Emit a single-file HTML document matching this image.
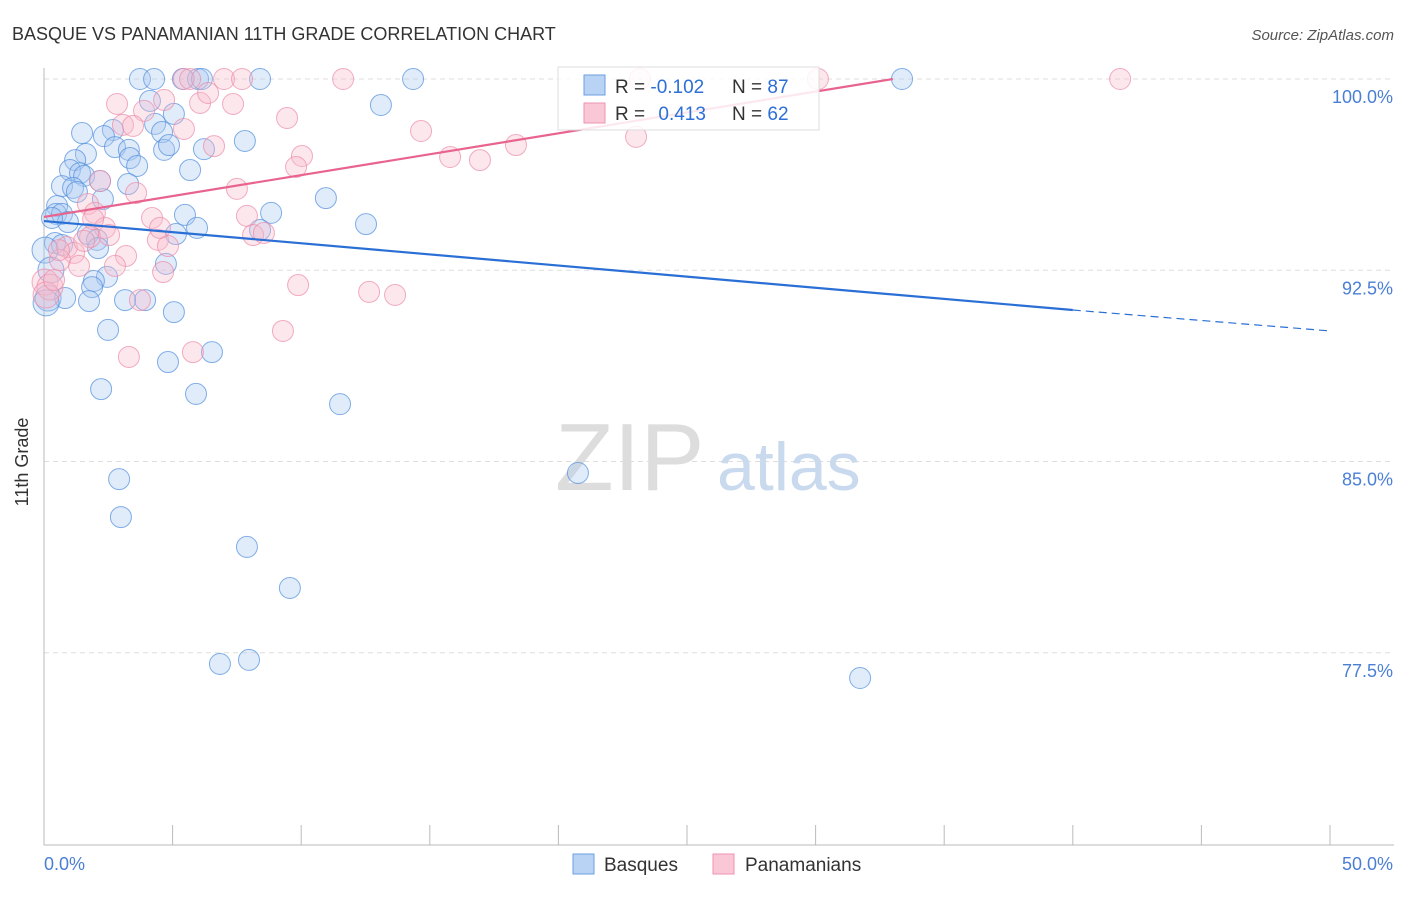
<!DOCTYPE html>
<html><head><meta charset="utf-8"><style>
body{margin:0;background:#fff;font-family:"Liberation Sans",sans-serif;}
svg text{font-family:"Liberation Sans",sans-serif;}
</style></head><body>
<svg id="chart" width="1406" height="892" xmlns="http://www.w3.org/2000/svg">
<text x="12" y="40" font-size="18" fill="#333">BASQUE VS PANAMANIAN 11TH GRADE CORRELATION CHART</text>
<text x="1394" y="40" font-size="15" fill="#555" text-anchor="end" font-style="italic">Source: ZipAtlas.com</text>
<g id="grid"></g>
<g><text x="555" y="490" font-size="96" fill="#ddd" font-family="Liberation Serif">ZIP</text><text x="717" y="490" font-size="68" fill="#c9d9ee">atlas</text></g>
<g id="axes"></g>
<g id="pts"></g>
<g id="trends"></g>
<text x="21" y="455" font-size="18" fill="#333" transform="rotate(-90 28 455)" text-anchor="middle">11th Grade</text>
<g>
<rect x="558" y="67" width="261" height="63" fill="#fff" fill-opacity="0.85" stroke="#ddd"/>
<rect x="584" y="75" width="21" height="20" fill="#b9d3f5" stroke="#6d9ee0"/>
<rect x="584" y="103" width="21" height="20" fill="#f9c7d6" stroke="#ee93b0"/>
<text x="615" y="93" font-size="19" fill="#333">R = <tspan fill="#2c6fd6">-0.102</tspan></text>
<text x="732" y="93" font-size="19" fill="#333">N = <tspan fill="#2c6fd6">87</tspan></text>
<text x="615" y="120" font-size="19" fill="#333">R = <tspan fill="#2c6fd6" dx="8">0.413</tspan></text>
<text x="732" y="120" font-size="19" fill="#333">N = <tspan fill="#2c6fd6">62</tspan></text>
</g>
<g>
<rect x="573" y="854" width="21" height="20" fill="#b9d3f5" stroke="#6d9ee0"/>
<text x="604" y="871" font-size="19" fill="#333">Basques</text>
<rect x="713" y="854" width="21" height="20" fill="#f9c7d6" stroke="#ee93b0"/>
<text x="745" y="871" font-size="19" fill="#333">Panamanians</text>
</g>
</svg>
<script>
const yTicks=[100,92.5,85,77.5];
const yTickLabels=["100.0%","92.5%","85.0%","77.5%"];
const xTickLabels=["0.0%","50.0%"];
const basques=[[3.73,100],[4.28,100],[5.40,100],[5.99,100],[6.14,100],[8.40,100],[14.35,100],[33.36,100],[4.12,99.14],[13.10,98.98],[5.05,98.63],[4.32,98.24],[1.48,97.88],[2.68,98.0],[2.33,97.76],[4.59,97.92],[7.81,97.57],[2.76,97.33],[3.30,97.22],[4.67,97.22],[6.22,97.25],[4.86,97.41],[1.63,97.06],[1.21,96.82],[3.34,96.90],[3.62,96.59],[5.68,96.43],[1.01,96.43],[1.40,96.31],[1.56,96.20],[0.70,95.80],[1.13,95.73],[1.28,95.57],[3.27,95.88],[2.29,95.29],[2.18,96.0],[10.96,95.33],[0.51,95.02],[0.47,94.71],[0.70,94.71],[5.48,94.67],[8.83,94.75],[12.52,94.31],[0.93,94.39],[0.31,94.55],[5.95,94.16],[5.13,93.92],[1.71,93.92],[8.40,94.08],[2.06,93.69],[0.43,93.57],[0.70,93.49],[0.04,93.29],[4.74,92.75],[2.10,93.37],[2.45,92.24],[1.94,92.08],[1.87,91.84],[0.16,91.41],[0.82,91.41],[3.93,91.33],[3.15,91.33],[1.75,91.29],[5.05,90.86],[2.49,90.16],[6.53,89.29],[4.82,88.90],[2.22,87.84],[5.91,87.65],[11.51,87.25],[20.76,84.55],[2.92,84.31],[2.99,82.82],[7.89,81.65],[9.56,80.04],[6.84,77.06],[7.97,77.22],[31.73,76.51],[0.08,91.22],[0.27,92.51]];
const panamanians=[[5.44,100],[5.68,100],[7.0,100],[7.70,100],[11.63,100],[23.17,100],[30.09,100],[41.84,100],[2.84,99.02],[4.67,99.18],[7.35,99.02],[6.07,99.06],[6.38,99.45],[3.89,98.75],[3.07,98.20],[3.46,98.16],[5.44,98.04],[9.45,98.47],[14.66,97.96],[6.61,97.37],[10.03,96.98],[9.80,96.55],[15.79,96.94],[16.95,96.82],[18.35,97.41],[23.02,97.73],[2.18,96.0],[3.58,95.53],[7.50,95.69],[1.71,95.10],[1.98,94.75],[4.20,94.55],[7.89,94.63],[2.37,94.16],[1.79,93.80],[2.53,93.88],[4.43,93.69],[4.82,93.45],[8.13,93.88],[8.55,93.96],[0.89,93.41],[1.17,93.18],[0.62,92.90],[1.36,92.67],[3.19,93.06],[2.76,92.67],[4.63,92.43],[0.04,92.04],[0.23,91.84],[0.08,91.53],[9.88,91.92],[12.64,91.65],[13.65,91.53],[3.73,91.33],[9.29,90.12],[5.79,89.29],[3.30,89.10],[0.39,92.12],[1.56,93.65],[4.51,94.16],[0.58,93.29],[1.91,94.51]];
const blueTrend=[[0,94.43],[40,90.94],[50,90.12]];
const pinkTrend=[[0,94.59],[33,100]];

const X0=44,X1=1330,Y100=79,PXY=25.5,BOTTOM=845;
const sx=v=>X0+(X1-X0)*v/50;
const sy=v=>Y100+(100-v)*PXY;
const NS="http://www.w3.org/2000/svg";
function mk(tag,attrs,parent){const e=document.createElementNS(NS,tag);for(const k in attrs)e.setAttribute(k,attrs[k]);parent.appendChild(e);return e;}
const grid=document.getElementById('grid'),axes=document.getElementById('axes'),pts=document.getElementById('pts'),trends=document.getElementById('trends');
yTicks.forEach((t,i)=>{
  const l=mk('line',{x1:X0,x2:1394,y1:sy(t),y2:sy(t),stroke:'#ddd','stroke-dasharray':'5,4'},grid);
  
  
  const tx=mk('text',{x:1393,y:sy(t)+24,'font-size':18,fill:'#4a7fd4','text-anchor':'end'},axes);
  tx.textContent=yTickLabels[i];
  
  
});
const la=mk('line',{x1:X0,x2:X0,y1:68,y2:BOTTOM,stroke:'#bbb'},axes);


const ba=mk('line',{x1:X0,x2:1394,y1:BOTTOM,y2:BOTTOM,stroke:'#bbb'},axes);


for(let i=1;i<=10;i++){
  const t=mk('line',{x1:sx(i*5),x2:sx(i*5),y1:BOTTOM-20,y2:BOTTOM,stroke:'#bbb'},axes);
  
  
}
[[0,'start',X0],[50,'end',1393]].forEach((d,i)=>{
  const tx=mk('text',{x:d[2],y:870,'font-size':18,fill:'#4a7fd4','text-anchor':d[1]},axes);
  tx.textContent=xTickLabels[i];
  
  
});
function dots(data,fill,stroke,name){
  data.forEach(d=>{
    const r=(d[0]<0.3)?13:10.5;
    const c=mk('circle',{cx:sx(d[0]),cy:sy(d[1]),r:r,fill:fill,'fill-opacity':0.35,stroke:stroke,'stroke-opacity':0.7,'stroke-width':1},pts);
    
    
  });
}
dots(basques,'#a9c8f0','#4f8ddd','basques-point');
dots(panamanians,'#f7b9cc','#ec8aa8','panamanians-point');
const b1=mk('line',{x1:sx(blueTrend[0][0]),y1:sy(blueTrend[0][1]),x2:sx(blueTrend[1][0]),y2:sy(blueTrend[1][1]),stroke:'#2a6fd6','stroke-width':2.2},trends);


const b2=mk('line',{x1:sx(blueTrend[1][0]),y1:sy(blueTrend[1][1]),x2:sx(blueTrend[2][0]),y2:sy(blueTrend[2][1]),stroke:'#2a6fd6','stroke-width':1.2,'stroke-dasharray':'8,5'},trends);


const p1=mk('line',{x1:sx(pinkTrend[0][0]),y1:sy(pinkTrend[0][1]),x2:sx(pinkTrend[1][0]),y2:sy(pinkTrend[1][1]),stroke:'#e8638e','stroke-width':2.2},trends);


</script>
</body></html>
